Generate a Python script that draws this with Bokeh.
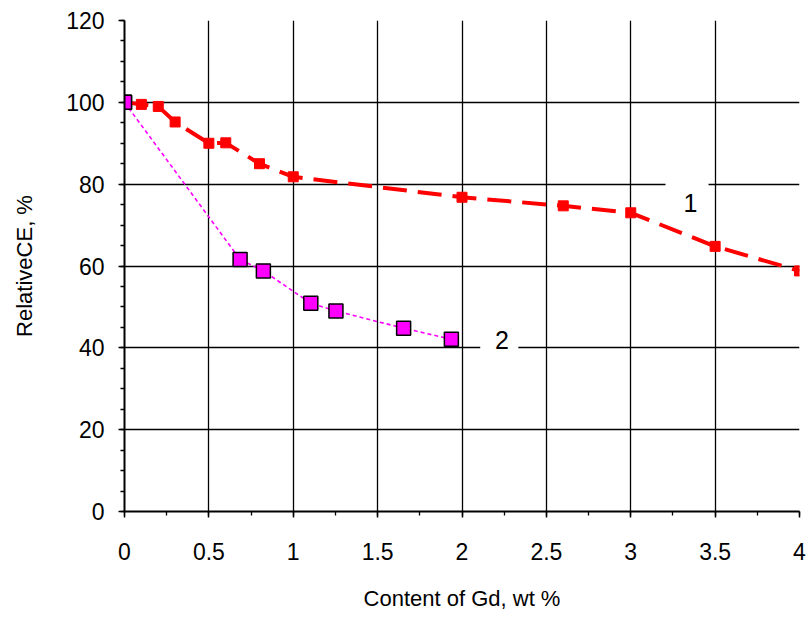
from bokeh.plotting import figure
from bokeh.models import Range1d, FixedTicker
from bokeh.embed import file_html
from bokeh.resources import INLINE
from bokeh.core.properties import value
import numpy as np

# ---- data ----
gd_content_1 = [0, 0.1, 0.2, 0.3, 0.5, 0.6, 0.8, 1.0, 2.0, 2.6, 3.0, 3.5, 4.0]
relative_ce_1 = [100, 99.5, 99.0, 95.2, 90.0, 90.1, 85.0, 81.8, 76.8, 74.7, 73.0, 64.8, 58.8]

gd_content_2 = [0, 0.685, 0.823, 1.104, 1.253, 1.654, 1.937]
relative_ce_2 = [100, 61.6, 58.8, 50.9, 49.0, 44.8, 42.1]

x_ticks = [0, 0.5, 1, 1.5, 2, 2.5, 3, 3.5, 4]
x_tick_labels = ["0", "0.5", "1", "1.5", "2", "2.5", "3", "3.5", "4"]
y_ticks = [0, 20, 40, 60, 80, 100, 120]
y_tick_labels = ["0", "20", "40", "60", "80", "100", "120"]

x_title = "Content of Gd, wt %"
y_title = "RelativeCE, %"

curve_labels = ["1", "2"]
curve_label_x = [3.354, 2.237]
curve_label_y = [75.3, 41.8]
# white boxes behind the curve labels (cut the grid lines)
box_left = [3.206, 2.108]
box_right = [3.461, 2.334]
box_bottom = [73.0, 38.5]
box_top = [82.5, 45.0]

FONT = "Liberation Sans"

p = figure(width=809, height=617, output_backend="svg", toolbar_location=None,
           x_range=Range1d(0, 4), y_range=Range1d(0, 120),
           min_border_left=124, min_border_right=10,
           min_border_top=20, min_border_bottom=106)
p.outline_line_color = None
p.background_fill_color = "white"
p.border_fill_color = "white"

# axes
xt = FixedTicker(ticks=x_ticks, minor_ticks=list(np.arange(0, 4.01, 0.25)))
yt = FixedTicker(ticks=y_ticks, minor_ticks=list(np.arange(0, 120.1, 5)))
p.xaxis.ticker = xt
p.yaxis.ticker = yt
p.xaxis.major_label_overrides = {t: l for t, l in zip(x_ticks, x_tick_labels)}
p.yaxis.major_label_overrides = {t: l for t, l in zip(y_ticks, y_tick_labels)}

for ax in (p.xaxis[0], p.yaxis[0]):
    ax.axis_line_color = "black"
    ax.axis_line_width = 2
    ax.major_tick_line_color = "black"
    ax.major_tick_line_width = 1.5
    ax.minor_tick_line_color = "black"
    ax.minor_tick_line_width = 1.3
    ax.major_tick_out = 6
    ax.major_tick_in = 0
    ax.minor_tick_out = 4
    ax.minor_tick_in = 0
    ax.major_label_text_font = FONT
    ax.major_label_text_font_size = "23px"
    ax.major_label_text_color = "black"
    ax.axis_label_text_font = FONT
    ax.axis_label_text_font_size = "22px"
    ax.axis_label_text_font_style = "normal"
    ax.axis_label_text_color = "black"

p.xaxis.axis_label = x_title
p.yaxis.axis_label = y_title
p.xaxis.major_label_standoff = 25
p.xaxis.axis_label_standoff = 23
p.yaxis.major_label_standoff = 14
p.yaxis.axis_label_standoff = 26

# grid
p.xgrid.ticker = FixedTicker(ticks=x_ticks)
p.ygrid.ticker = FixedTicker(ticks=y_ticks)
for g in (p.xgrid[0], p.ygrid[0]):
    g.grid_line_color = "black"
    g.grid_line_width = 1.3
    g.grid_line_alpha = 1.0

# white boxes behind curve labels
p.quad(left=box_left, right=box_right, bottom=box_bottom, top=box_top,
       fill_color="white", line_color=None)

# curve 2 (magenta)
p.line(gd_content_2, relative_ce_2, line_color="#FF00FF", line_width=1.6,
       line_dash="4 3")
p.scatter(gd_content_2, relative_ce_2, marker="square", size=14,
          fill_color="#FF00FF", line_color="black", line_width=1.5)

# curve 1 (red)
p.line(gd_content_1, relative_ce_1, line_color="#FF0000", line_width=4,
       line_dash="24 11")
p.scatter(gd_content_1, relative_ce_1, marker="square", size=10,
          fill_color="#FF0000", line_color="#FF0000", line_width=1)

# magenta first marker drawn on top
p.scatter(gd_content_2[:1], relative_ce_2[:1], marker="square", size=14,
          fill_color="#FF00FF", line_color="black", line_width=1.5)

# curve labels
p.text(x=curve_label_x, y=curve_label_y, text=curve_labels,
       text_font=value(FONT), text_font_size="25px", text_color="black",
       text_align="center", text_baseline="middle")

open("out.html", "w").write(file_html(p, INLINE))
